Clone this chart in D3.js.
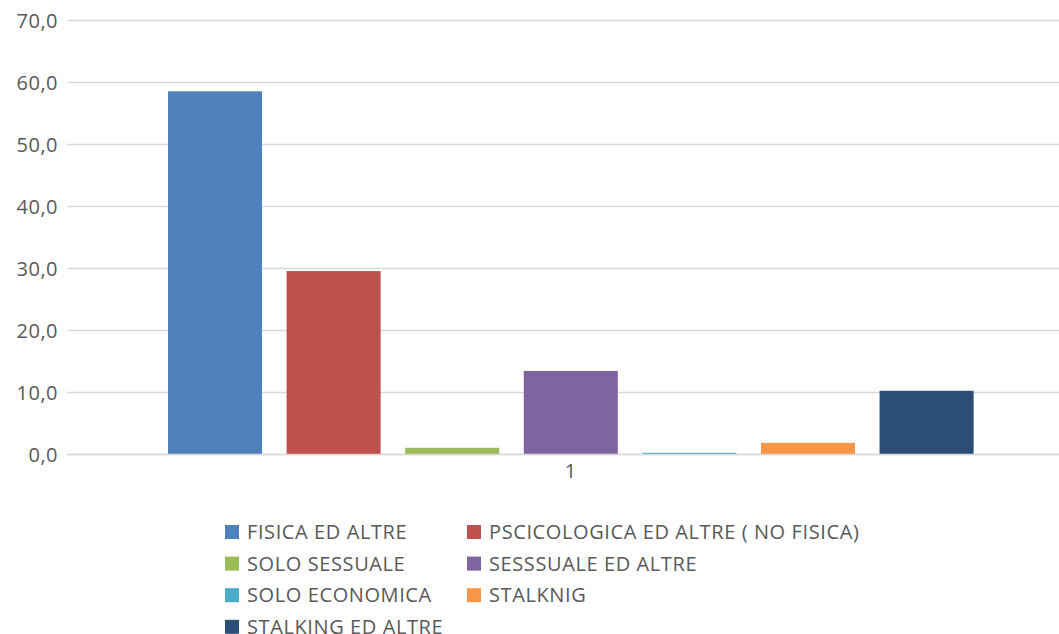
<!DOCTYPE html>
<html><head><meta charset="utf-8">
<script src="https://cdn.jsdelivr.net/npm/d3@7"></script>
<style>body{margin:0;background:#fff}svg{display:block}text{font-family:"Open Sans",sans-serif;fill:#595959}</style>
</head><body><svg id="c" width="1059" height="634"></svg>
<script>
const categories = ["1"];
const seriesNames = ["FISICA ED ALTRE","PSCICOLOGICA ED ALTRE ( NO FISICA)","SOLO SESSUALE","SESSSUALE ED ALTRE","SOLO ECONOMICA","STALKNIG","STALKING ED ALTRE"];
const seriesValues = [58.5, 29.5, 1.0, 13.4, 0.2, 1.8, 10.2];
const seriesColors = ["#4f81bd","#c0504d","#9bbb59","#8064a2","#4bacc6","#f79646","#2c4d75"];
const yTicks = [0,10,20,30,40,50,60,70];

const svg = d3.select("#c");
const y = d3.scaleLinear().domain([0,70]).range([454,20]);
const x0 = d3.scaleBand().domain(categories).range([67,1074]);
const x1 = d3.scaleBand().domain(seriesNames).range([155.7,985.9]).paddingInner(0.207).paddingOuter(0.1035);
const fmt = v => d3.format(".1f")(v).replace(".", ",");

const yAxis = svg.append("g").attr("transform","translate(67,0)")
  .call(d3.axisLeft(y).tickValues(yTicks).tickFormat(fmt).tickSize(-992).tickPadding(9));
yAxis.select(".domain").remove();
yAxis.selectAll("line").attr("stroke","#d9d9d9").attr("stroke-width",1.5);
yAxis.selectAll("text").style("font-size","20px").style("letter-spacing","0.5px").attr("fill","#595959").attr("dy","0.35em");

svg.append("g").selectAll("rect").data(seriesNames).join("rect")
  .attr("x", d => x1(d)).attr("width", x1.bandwidth())
  .attr("y", (d,i) => y(seriesValues[i])).attr("height", (d,i) => y(0) - y(seriesValues[i]))
  .attr("fill", (d,i) => seriesColors[i]);

const xAxis = svg.append("g").attr("transform","translate(0,454)")
  .call(d3.axisBottom(x0).tickSize(0).tickPadding(10));
xAxis.select(".domain").attr("stroke","#d9d9d9").attr("stroke-width",1.5);
xAxis.selectAll("text").style("font-size","20px").attr("fill","#595959");
xAxis.selectAll(".tick").attr("transform","translate(570.5,0)");

const legend = svg.append("g");
const items = legend.selectAll("g").data(seriesNames).join("g")
  .attr("transform",(d,i)=>`translate(${i%2===0?225:467},${532+Math.floor(i/2)*31.6})`);
items.append("rect").attr("x",0).attr("y",-7).attr("width",14).attr("height",14).attr("fill",(d,i)=>seriesColors[i]);
items.append("text").attr("x",22).attr("dy","0.36em").style("font-size","20px").style("letter-spacing","0.6px").text(d=>d);
</script></body></html>
